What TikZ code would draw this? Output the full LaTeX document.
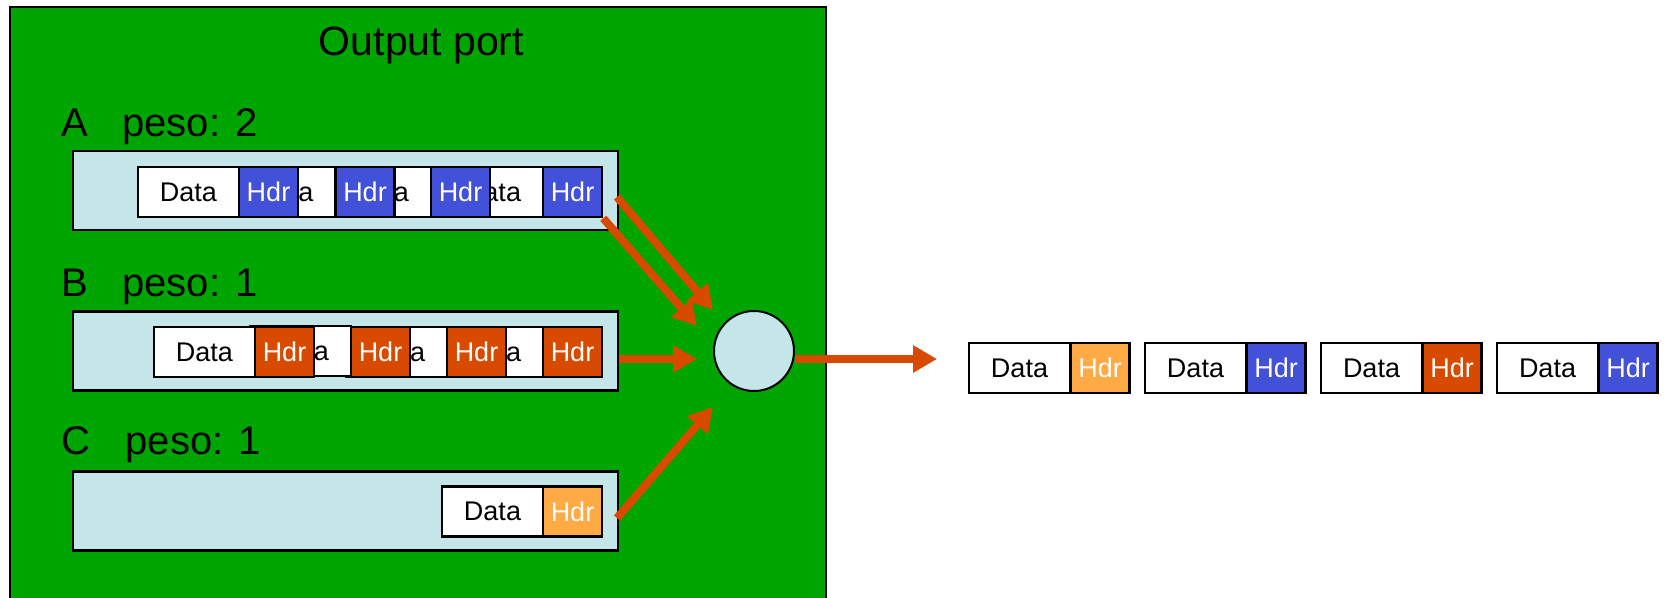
\documentclass[tikz,border=0pt]{standalone}
\usepackage{fontspec}
\setmainfont{Liberation Sans}
\usetikzlibrary{arrows.meta}
\definecolor{portgreen}{RGB}{0,165,0}
\definecolor{queueblue}{RGB}{197,230,233}
\definecolor{hdrblue}{RGB}{67,80,216}
\definecolor{hdrred}{RGB}{216,74,0}
\definecolor{hdrorange}{RGB}{255,170,68}

\begin{document}
\begin{tikzpicture}[x=1pt, y=-1pt,
		port_style/.style={draw=black, line width=2pt, fill=portgreen},
		queue_style/.style={rectangle, draw=black, line width=2.5pt, fill=queueblue, minimum width=545pt, minimum height=79pt, inner sep=0pt},
		label_style/.style={anchor=base west, inner sep=0pt, font=\fontsize{40}{48}\selectfont},
		data_style/.style={rectangle, draw=black, line width=2.5pt, fill=white, minimum width=101pt, minimum height=50pt, inner sep=0pt, font=\fontsize{27}{32}\selectfont},
		hdr_style/.style={data_style, minimum width=59pt, text=white},
		sched_style/.style={circle, draw=black, line width=2pt, fill=queueblue, minimum size=80pt, inner sep=0pt},
		edge_style/.style={draw=hdrred, line width=8pt, -{Triangle[length=24pt, width=26pt]}}]
		
		\useasboundingbox (0,0) rectangle (1665,597);
		\draw[port_style] (10,7) rectangle (826,625);
		\node[anchor=base, inner sep=0pt, font=\fontsize{41}{49}\selectfont] (title) at (421.5,55) {Output port};
		
		\node[label_style] (lA) at (61.6,136) {A\hspace{34pt}peso: 2};
		\node[label_style] (lB) at (61.6,296) {B\hspace{34pt}peso: 1};
		\node[label_style] (lC) at (61.6,454) {C\hspace{35pt}peso: 1};
		
		\node[queue_style] (qA) at (345.5,190.5) {};
		\node[queue_style] (qB) at (345.5,351) {};
		\node[queue_style] (qC) at (345.5,511) {};
		
		% queue A
		\node[data_style] (dA4) at (492.5,192) {Data};
		\node[hdr_style, fill=hdrblue] (hA4) at (572.5,192) {Hdr};
		\node[data_style] (dA3) at (380.5,192) {Data};
		\node[hdr_style, fill=hdrblue] (hA3) at (460.5,192) {Hdr};
		\node[data_style] (dA2) at (285,192) {Data};
		\node[hdr_style, fill=hdrblue] (hA2) at (365,192) {Hdr};
		\node[data_style] (dA1) at (188.5,192) {Data};
		\node[hdr_style, fill=hdrblue] (hA1) at (268.5,192) {Hdr};
		
		% queue B
		\node[data_style] (dB4) at (492.5,352) {Data};
		\node[hdr_style, fill=hdrred] (hB4) at (572.5,352) {Hdr};
		\node[data_style] (dB3) at (396.5,352) {Data};
		\node[hdr_style, fill=hdrred] (hB3) at (476.5,352) {Hdr};
		\node[data_style] (dB2) at (300.5,351) {Data};
		\node[hdr_style, fill=hdrred] (hB2) at (380.5,352) {Hdr};
		\node[data_style] (dB1) at (204.5,352) {Data};
		\node[hdr_style, fill=hdrred] (hB1) at (284.5,352) {Hdr};
		
		% queue C
		\node[data_style] (dC1) at (492.5,511.5) {Data};
		\node[hdr_style, fill=hdrorange] (hC1) at (572.5,511.5) {Hdr};
		
		\node[sched_style] (sched) at (754,351) {};
		
		% output link
		\node[data_style] (dO1) at (1019.5,368) {Data};
		\node[hdr_style, fill=hdrorange] (hO1) at (1100,368) {Hdr};
		\node[data_style] (dO2) at (1195.5,368) {Data};
		\node[hdr_style, fill=hdrblue] (hO2) at (1276,368) {Hdr};
		\node[data_style] (dO3) at (1371.5,368) {Data};
		\node[hdr_style, fill=hdrred] (hO3) at (1452,368) {Hdr};
		\node[data_style] (dO4) at (1547.5,368) {Data};
		\node[hdr_style, fill=hdrblue] (hO4) at (1628,368) {Hdr};
		
		\coordinate (a1_start) at (617,197);
		\coordinate (a1_end) at (713,310);
		\coordinate (a2_end) at (697,326);
		\coordinate (b_end) at (697,359);
		\coordinate (c_start) at (617,518);
		\coordinate (c_end) at (713,407);
		\coordinate (out_end) at (937,359);
		
		\draw[edge_style] (a1_start) -- (a1_end);
		\draw[edge_style] (hA4.south east) -- (a2_end);
		\draw[edge_style] ([yshift=-8pt]qB.east) -- (b_end);
		\draw[edge_style] (c_start) -- (c_end);
		\draw[edge_style] ([yshift=-8pt]sched.east) -- (out_end);
\end{tikzpicture}
\end{document}
